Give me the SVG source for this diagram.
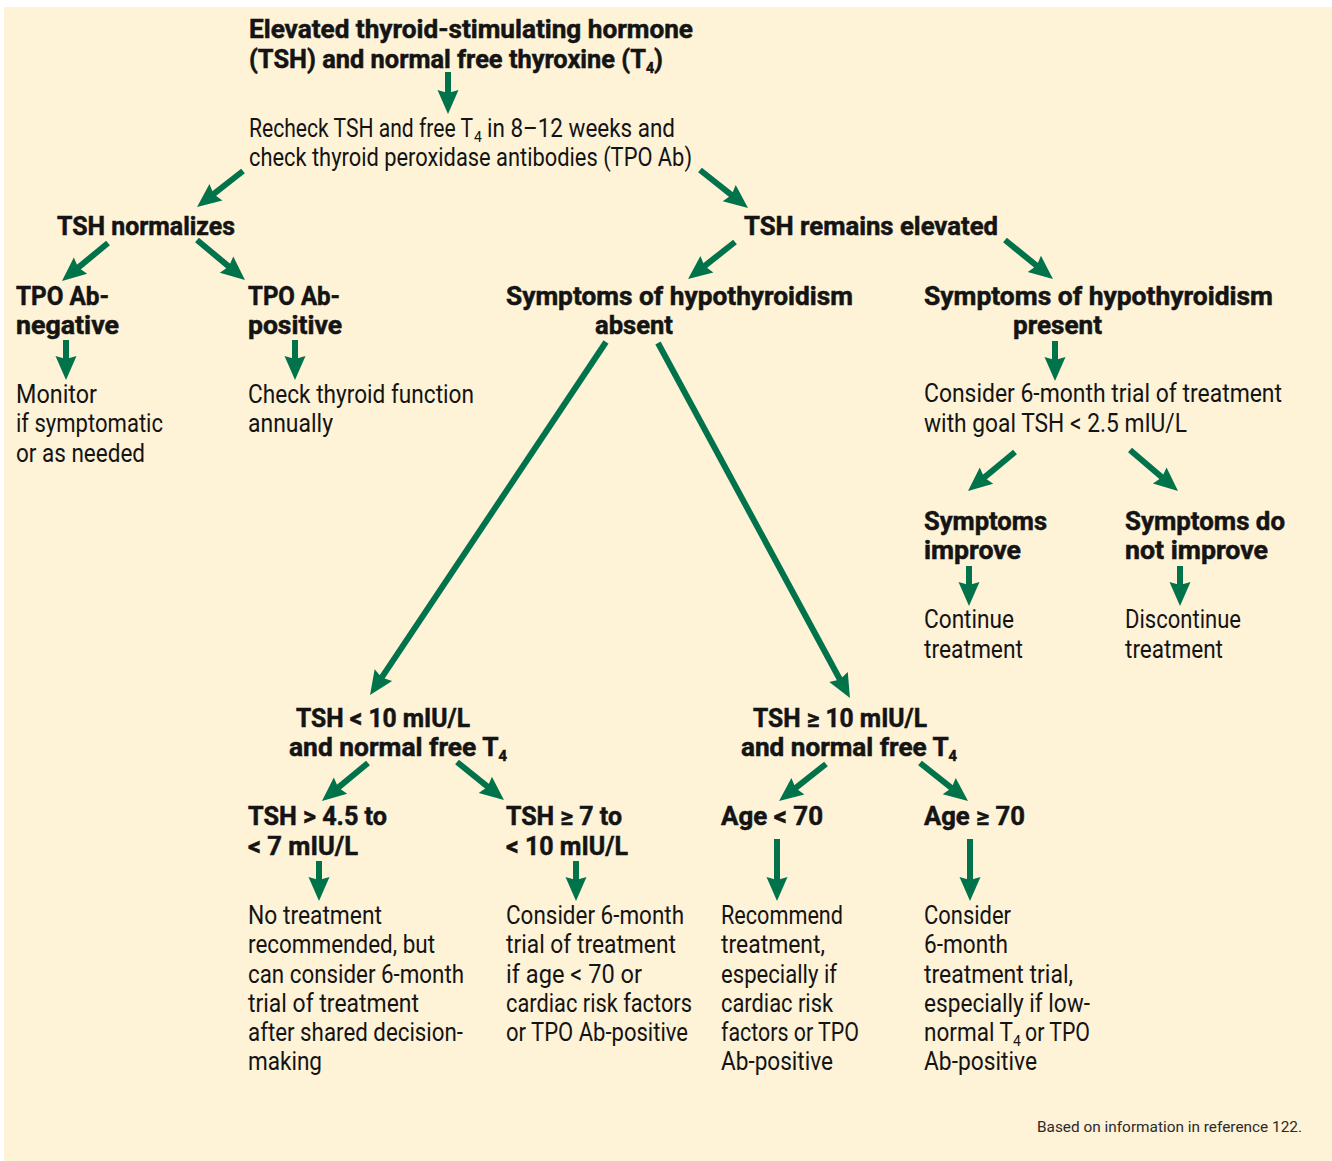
<svg xmlns="http://www.w3.org/2000/svg" width="1332" height="1161" viewBox="0 0 1332 1161">
<style>
text{font-family:Roboto,"Liberation Sans",Arial,sans-serif;font-size:25px;fill:#141414}
.b{font-weight:bold;stroke:#141414;stroke-width:0.5}
.sub{font-size:14px}
.foot{font-size:15px;fill:#2a2a2a}
.c line{stroke:#00734b;stroke-width:6;marker-end:url(#ah)}
</style>
<defs>
<marker id="ah" markerUnits="userSpaceOnUse" orient="auto" refX="0" refY="0" markerWidth="30" markerHeight="30" overflow="visible">
<path d="M10,0 L-14,-10.5 L-11,0 L-14,10.5 Z" fill="#00734b"/>
</marker>
</defs>
<rect x="0" y="0" width="1332" height="1161" fill="#ffffff"/>
<rect x="4" y="7" width="1328" height="1154" fill="#fef2d7"/>

<g id="n-title">
<text class="b" x="249" y="38" textLength="444" lengthAdjust="spacingAndGlyphs">Elevated thyroid-stimulating hormone</text>
<text class="b" x="249" y="68" textLength="414" lengthAdjust="spacingAndGlyphs">(TSH) and normal free thyroxine (T<tspan class="sub" baseline-shift="-5">4</tspan>)</text>
</g>
<g id="n-recheck">
<text x="249" y="137" textLength="224" lengthAdjust="spacingAndGlyphs">Recheck TSH and free T</text>
<text class="sub" x="474" y="142">4</text>
<text x="487" y="137" textLength="188" lengthAdjust="spacingAndGlyphs">in 8–12 weeks and</text>
<text x="249" y="166" textLength="443" lengthAdjust="spacingAndGlyphs">check thyroid peroxidase antibodies (TPO Ab)</text>
</g>
<g id="n-normalizes"><text class="b" x="57" y="235" textLength="178" lengthAdjust="spacingAndGlyphs">TSH normalizes</text></g>
<g id="n-elevated"><text class="b" x="744" y="235" textLength="254" lengthAdjust="spacingAndGlyphs">TSH remains elevated</text></g>
<g id="n-tponeg">
<text class="b" x="16" y="305" textLength="93" lengthAdjust="spacingAndGlyphs">TPO Ab-</text>
<text class="b" x="16" y="334" textLength="103" lengthAdjust="spacingAndGlyphs">negative</text>
</g>
<g id="n-tpopos">
<text class="b" x="248" y="305" textLength="92" lengthAdjust="spacingAndGlyphs">TPO Ab-</text>
<text class="b" x="248" y="334" textLength="94" lengthAdjust="spacingAndGlyphs">positive</text>
</g>
<g id="n-absent">
<text class="b" x="506" y="305" textLength="347" lengthAdjust="spacingAndGlyphs">Symptoms of hypothyroidism</text>
<text class="b" x="595" y="334" textLength="78" lengthAdjust="spacingAndGlyphs">absent</text>
</g>
<g id="n-present">
<text class="b" x="924" y="305" textLength="349" lengthAdjust="spacingAndGlyphs">Symptoms of hypothyroidism</text>
<text class="b" x="1013" y="334" textLength="89" lengthAdjust="spacingAndGlyphs">present</text>
</g>
<g id="n-monitor">
<text x="16" y="403" textLength="81" lengthAdjust="spacingAndGlyphs">Monitor</text>
<text x="16" y="432" textLength="147" lengthAdjust="spacingAndGlyphs">if symptomatic</text>
<text x="16" y="462" textLength="129" lengthAdjust="spacingAndGlyphs">or as needed</text>
</g>
<g id="n-annually">
<text x="248" y="403" textLength="226" lengthAdjust="spacingAndGlyphs">Check thyroid function</text>
<text x="248" y="432" textLength="85" lengthAdjust="spacingAndGlyphs">annually</text>
</g>
<g id="n-trial">
<text x="924" y="402" textLength="358" lengthAdjust="spacingAndGlyphs">Consider 6-month trial of treatment</text>
<text x="924" y="432" textLength="263" lengthAdjust="spacingAndGlyphs">with goal TSH &lt; 2.5 mIU/L</text>
</g>
<g id="n-improve">
<text class="b" x="924" y="530" textLength="123" lengthAdjust="spacingAndGlyphs">Symptoms</text>
<text class="b" x="924" y="559" textLength="97" lengthAdjust="spacingAndGlyphs">improve</text>
</g>
<g id="n-notimprove">
<text class="b" x="1125" y="530" textLength="160" lengthAdjust="spacingAndGlyphs">Symptoms do</text>
<text class="b" x="1125" y="559" textLength="143" lengthAdjust="spacingAndGlyphs">not improve</text>
</g>
<g id="n-continue">
<text x="924" y="628" textLength="90" lengthAdjust="spacingAndGlyphs">Continue</text>
<text x="924" y="658" textLength="99" lengthAdjust="spacingAndGlyphs">treatment</text>
</g>
<g id="n-discontinue">
<text x="1125" y="628" textLength="116" lengthAdjust="spacingAndGlyphs">Discontinue</text>
<text x="1125" y="658" textLength="98" lengthAdjust="spacingAndGlyphs">treatment</text>
</g>
<g id="n-lt10">
<text class="b" x="296" y="727" textLength="174" lengthAdjust="spacingAndGlyphs">TSH &lt; 10 mIU/L</text>
<text class="b" x="289" y="756" textLength="218" lengthAdjust="spacingAndGlyphs">and normal free T<tspan class="sub" baseline-shift="-5">4</tspan></text>
</g>
<g id="n-ge10">
<text class="b" x="753" y="727" textLength="174" lengthAdjust="spacingAndGlyphs">TSH ≥ 10 mIU/L</text>
<text class="b" x="741" y="756" textLength="216" lengthAdjust="spacingAndGlyphs">and normal free T<tspan class="sub" baseline-shift="-5">4</tspan></text>
</g>
<g id="n-45to7">
<text class="b" x="248" y="825" textLength="139" lengthAdjust="spacingAndGlyphs">TSH &gt; 4.5 to</text>
<text class="b" x="248" y="855" textLength="110" lengthAdjust="spacingAndGlyphs">&lt; 7 mIU/L</text>
</g>
<g id="n-7to10">
<text class="b" x="506" y="825" textLength="116" lengthAdjust="spacingAndGlyphs">TSH ≥ 7 to</text>
<text class="b" x="506" y="855" textLength="122" lengthAdjust="spacingAndGlyphs">&lt; 10 mIU/L</text>
</g>
<g id="n-agelt70"><text class="b" x="721" y="825" textLength="102" lengthAdjust="spacingAndGlyphs">Age &lt; 70</text></g>
<g id="n-agege70"><text class="b" x="924" y="825" textLength="101" lengthAdjust="spacingAndGlyphs">Age ≥ 70</text></g>
<g id="n-notreat">
<text x="248" y="924" textLength="134" lengthAdjust="spacingAndGlyphs">No treatment</text>
<text x="248" y="953" textLength="187" lengthAdjust="spacingAndGlyphs">recommended, but</text>
<text x="248" y="983" textLength="216" lengthAdjust="spacingAndGlyphs">can consider 6-month</text>
<text x="248" y="1012" textLength="171" lengthAdjust="spacingAndGlyphs">trial of treatment</text>
<text x="248" y="1041" textLength="215" lengthAdjust="spacingAndGlyphs">after shared decision-</text>
<text x="248" y="1070" textLength="74" lengthAdjust="spacingAndGlyphs">making</text>
</g>
<g id="n-consider7">
<text x="506" y="924" textLength="178" lengthAdjust="spacingAndGlyphs">Consider 6-month</text>
<text x="506" y="953" textLength="170" lengthAdjust="spacingAndGlyphs">trial of treatment</text>
<text x="506" y="983" textLength="136" lengthAdjust="spacingAndGlyphs">if age &lt; 70 or</text>
<text x="506" y="1012" textLength="186" lengthAdjust="spacingAndGlyphs">cardiac risk factors</text>
<text x="506" y="1041" textLength="182" lengthAdjust="spacingAndGlyphs">or TPO Ab-positive</text>
</g>
<g id="n-recommend">
<text x="721" y="924" textLength="122" lengthAdjust="spacingAndGlyphs">Recommend</text>
<text x="721" y="953" textLength="104" lengthAdjust="spacingAndGlyphs">treatment,</text>
<text x="721" y="983" textLength="116" lengthAdjust="spacingAndGlyphs">especially if</text>
<text x="721" y="1012" textLength="112" lengthAdjust="spacingAndGlyphs">cardiac risk</text>
<text x="721" y="1041" textLength="138" lengthAdjust="spacingAndGlyphs">factors or TPO</text>
<text x="721" y="1070" textLength="112" lengthAdjust="spacingAndGlyphs">Ab-positive</text>
</g>
<g id="n-consider70">
<text x="924" y="924" textLength="87" lengthAdjust="spacingAndGlyphs">Consider</text>
<text x="924" y="953" textLength="84" lengthAdjust="spacingAndGlyphs">6-month</text>
<text x="924" y="983" textLength="149" lengthAdjust="spacingAndGlyphs">treatment trial,</text>
<text x="924" y="1012" textLength="166" lengthAdjust="spacingAndGlyphs">especially if low-</text>
<text x="924" y="1041" textLength="89" lengthAdjust="spacingAndGlyphs">normal T</text>
<text class="sub" x="1013" y="1046">4</text>
<text x="1025" y="1041" textLength="65" lengthAdjust="spacingAndGlyphs">or TPO</text>
<text x="924" y="1070" textLength="113" lengthAdjust="spacingAndGlyphs">Ab-positive</text>
</g>
<g id="n-footer"><text class="foot" x="1037" y="1132" textLength="265" lengthAdjust="spacingAndGlyphs">Based on information in reference 122.</text></g>

<g id="connectors" class="c">
<line x1="448" y1="72" x2="448" y2="104"/>
<line x1="243" y1="171" x2="204.9" y2="200.8"/>
<line x1="700" y1="170" x2="740.2" y2="201.8"/>
<line x1="108" y1="243" x2="69.7" y2="274.6"/>
<line x1="197" y1="240" x2="237.3" y2="273.6"/>
<line x1="735" y1="242" x2="695.9" y2="272.8"/>
<line x1="1005" y1="240" x2="1045.2" y2="272.7"/>
<line x1="66" y1="340" x2="66" y2="370"/>
<line x1="295" y1="340" x2="295" y2="370"/>
<line x1="1055" y1="341" x2="1055" y2="371"/>
<line x1="1015" y1="452" x2="975.7" y2="484.6"/>
<line x1="1130" y1="450" x2="1170.4" y2="484.5"/>
<line x1="969" y1="566" x2="969" y2="596"/>
<line x1="1180" y1="566" x2="1180" y2="596"/>
<line x1="606" y1="342" x2="375.6" y2="686.7"/>
<line x1="658" y1="343" x2="845.2" y2="689.2"/>
<line x1="368" y1="763" x2="329.7" y2="794.6"/>
<line x1="457" y1="762" x2="496.2" y2="793.7"/>
<line x1="826" y1="764" x2="786.9" y2="794.8"/>
<line x1="920" y1="763" x2="960.2" y2="794.8"/>
<line x1="319" y1="861" x2="319" y2="891"/>
<line x1="576" y1="861" x2="576" y2="891"/>
<line x1="777" y1="839" x2="777" y2="891"/>
<line x1="970" y1="839" x2="970" y2="891"/>
</g>
</svg>
